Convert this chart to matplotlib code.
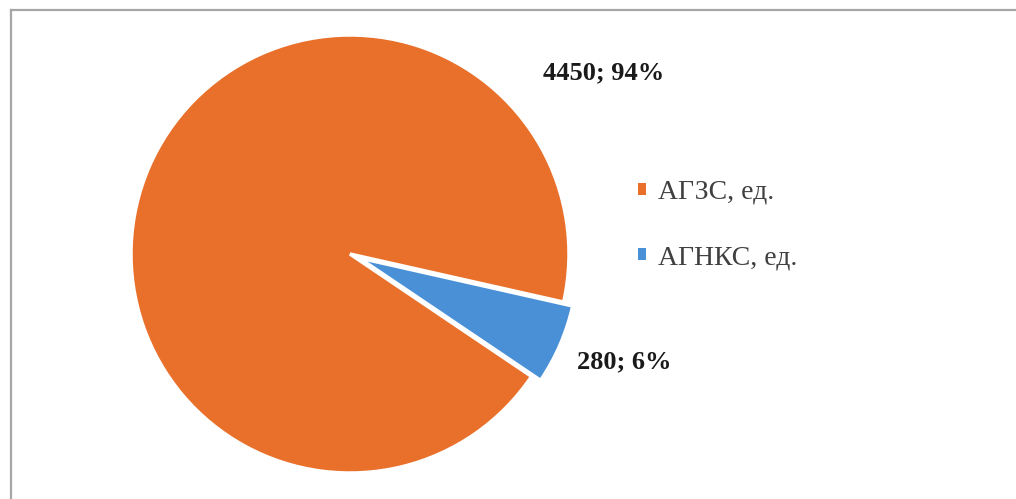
import matplotlib.pyplot as plt
from matplotlib.lines import Line2D
from matplotlib.patches import Patch

# количество станций по типам
labels = ['АГЗС, ед.', 'АГНКС, ед.']
values = [4450, 280]
shares = [94, 6]
colors = ['#E9702B', '#4A90D6']

W, H = 1016, 499
fig = plt.figure(figsize=(W / 100, H / 100), dpi=100)
ax = fig.add_axes([0, 0, 1, 1])

wedges, _ = ax.pie(values, colors=colors, startangle=-34, counterclock=False,
                   explode=[0, 0.045],
                   wedgeprops=dict(edgecolor='white', linewidth=2.5))

# масштаб: центр круга в пикселях (350, 254), радиус 219 px
cx, cy, r = 350, 254, 219
ax.set_xlim(-cx / r, (W - cx) / r)
ax.set_ylim(-(H - cy) / r, cy / r)
ax.set_aspect('auto')
ax.axis('off')

# подписи значений
lab_font = dict(family='Liberation Serif', fontweight='bold', fontsize=19, color='#1a1a1a')
pos = [(604, 73), (624, 362)]
for (px, py), v, s in zip(pos, values, shares):
    ax.text((px - cx) / r, (cy - py) / r, f'{v}; {s}%', ha='center', va='center', **lab_font)

# легенда
handles = [Patch(facecolor=c, edgecolor='none') for c in colors]
leg = fig.legend(handles, labels, loc='center left', bbox_to_anchor=(613 / W, 1 - 225 / H),
                 frameon=False, handlelength=0.27, handleheight=0.27, handletextpad=0.45,
                 labelspacing=1.45, prop=dict(family='Liberation Serif', size=20))
for t in leg.get_texts():
    t.set_color('#404040')

# рамка сверху и слева
fig.add_artist(Line2D([10.5 / W, 1], [1 - 9.5 / H, 1 - 9.5 / H], color='#A6A6A6', lw=1.6))
fig.add_artist(Line2D([10.5 / W, 10.5 / W], [0, 1 - 9.5 / H], color='#A6A6A6', lw=1.6))

fig.savefig('out.png', dpi=100)
